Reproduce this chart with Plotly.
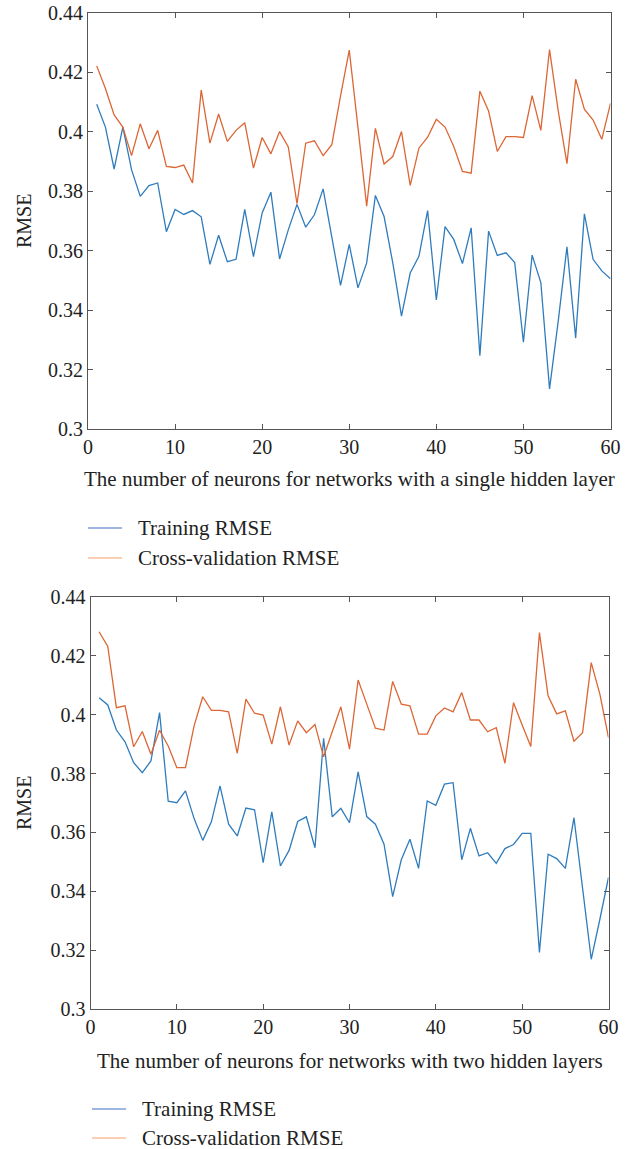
import plotly.graph_objects as go

neurons = list(range(1, 61))

train_single = [0.4093, 0.4016, 0.3875, 0.4016, 0.3873, 0.3783, 0.3819, 0.3828, 0.3664, 0.3739,
                0.3722, 0.3735, 0.3714, 0.3554, 0.3652, 0.3563, 0.3571, 0.3739, 0.3580, 0.3727,
                0.3797, 0.3572, 0.3670, 0.3756, 0.3679, 0.3721, 0.3808, 0.3648, 0.3483, 0.3621,
                0.3475, 0.3559, 0.3786, 0.3715, 0.3559, 0.3380, 0.3525, 0.3581, 0.3735, 0.3434,
                0.3681, 0.3638, 0.3557, 0.3677, 0.3247, 0.3666, 0.3584, 0.3593, 0.3560, 0.3292,
                0.3585, 0.3493, 0.3135, 0.3364, 0.3613, 0.3306, 0.3724, 0.3571, 0.3532, 0.3506]
cv_single = [0.4222, 0.4146, 0.4057, 0.4016, 0.3920, 0.4027, 0.3943, 0.4005, 0.3884, 0.3880,
             0.3888, 0.3828, 0.4141, 0.3962, 0.4060, 0.3968, 0.4005, 0.4031, 0.3878, 0.3981,
             0.3926, 0.4001, 0.3949, 0.3758, 0.3962, 0.3970, 0.3920, 0.3957, 0.4121, 0.4275,
             0.4015, 0.3750, 0.4012, 0.3892, 0.3917, 0.4001, 0.3820, 0.3945, 0.3982, 0.4042,
             0.4016, 0.3951, 0.3867, 0.3861, 0.4137, 0.4070, 0.3934, 0.3984, 0.3984, 0.3981,
             0.4122, 0.4005, 0.4277, 0.4070, 0.3893, 0.4177, 0.4076, 0.4040, 0.3975, 0.4096]

train_two = [0.4058, 0.4033, 0.3948, 0.3908, 0.3837, 0.3803, 0.3843, 0.4007, 0.3706, 0.3701,
             0.3741, 0.3647, 0.3573, 0.3636, 0.3758, 0.3628, 0.3588, 0.3683, 0.3677, 0.3497,
             0.3670, 0.3486, 0.3539, 0.3637, 0.3653, 0.3548, 0.3920, 0.3653, 0.3682, 0.3633,
             0.3806, 0.3654, 0.3628, 0.3560, 0.3382, 0.3507, 0.3577, 0.3478, 0.3707, 0.3692,
             0.3764, 0.3769, 0.3507, 0.3614, 0.3520, 0.3531, 0.3495, 0.3545, 0.3559, 0.3597,
             0.3597, 0.3192, 0.3526, 0.3511, 0.3478, 0.3650, 0.3410, 0.3169, 0.3305, 0.3447]
cv_two = [0.4282, 0.4232, 0.4024, 0.4030, 0.3891, 0.3943, 0.3866, 0.3947, 0.3894, 0.3820,
          0.3820, 0.3962, 0.4061, 0.4015, 0.4015, 0.4010, 0.3869, 0.4053, 0.4005, 0.3999,
          0.3900, 0.4027, 0.3897, 0.3979, 0.3939, 0.3967, 0.3857, 0.3945, 0.4027, 0.3883,
          0.4118, 0.4036, 0.3954, 0.3948, 0.4113, 0.4036, 0.4030, 0.3934, 0.3934, 0.3996,
          0.4023, 0.4010, 0.4075, 0.3982, 0.3982, 0.3942, 0.3956, 0.3835, 0.4041, 0.3965,
          0.3892, 0.4279, 0.4064, 0.4003, 0.4013, 0.3910, 0.3939, 0.4177, 0.4070, 0.3922]

x_ticks = [0, 10, 20, 30, 40, 50, 60]
y_ticks = [0.3, 0.32, 0.34, 0.36, 0.38, 0.4, 0.42, 0.44]
y_tick_labels = ["0.3", "0.32", "0.34", "0.36", "0.38", "0.4", "0.42", "0.44"]

series_names = ["Training RMSE", "Cross-validation RMSE"]
x_titles = ["The number of neurons for networks with a single hidden layer",
            "The number of neurons for networks with two hidden layers"]

BLUE = "#2f7cbd"
ORANGE = "#dc6634"
BLUE_LEG = "#7d9fd8"
ORANGE_LEG = "#f8bf9c"
FONT = "Liberation Serif"
W, H = 634, 1149

fig = go.Figure()

fig.add_trace(go.Scatter(x=neurons, y=train_single, mode="lines", line=dict(color=BLUE, width=1.3),
                         xaxis="x", yaxis="y", showlegend=False))
fig.add_trace(go.Scatter(x=neurons, y=cv_single, mode="lines", line=dict(color=ORANGE, width=1.3),
                         xaxis="x", yaxis="y", showlegend=False))
fig.add_trace(go.Scatter(x=neurons, y=train_two, mode="lines", line=dict(color=BLUE, width=1.3),
                         xaxis="x2", yaxis="y2", showlegend=False))
fig.add_trace(go.Scatter(x=neurons, y=cv_two, mode="lines", line=dict(color=ORANGE, width=1.3),
                         xaxis="x2", yaxis="y2", showlegend=False))

def px_x(p):
    return p / W

def px_y(p):
    return 1 - p / H

axis_common = dict(showgrid=False, zeroline=False, showline=True, linecolor="#555555", linewidth=1,
                   mirror="ticks", ticks="inside", ticklen=5, tickcolor="#555555", automargin=False,
                   tickfont=dict(family=FONT, size=20, color="#222222"))

fig.update_layout(
    width=W, height=H, margin=dict(l=0, r=0, t=0, b=0),
    paper_bgcolor="white", plot_bgcolor="white", showlegend=False,
    xaxis=dict(domain=[px_x(88), px_x(610.5)], range=[0, 60], tickvals=x_ticks, anchor="y", **axis_common),
    yaxis=dict(domain=[px_y(429), px_y(13)], range=[0.3, 0.44], tickvals=y_ticks, ticktext=y_tick_labels,
               anchor="x", **axis_common),
    xaxis2=dict(domain=[px_x(90.5), px_x(608.5)], range=[0, 60], tickvals=x_ticks, anchor="y2", **axis_common),
    yaxis2=dict(domain=[px_y(1009), px_y(597)], range=[0.3, 0.44], tickvals=y_ticks, ticktext=y_tick_labels,
                anchor="x2", **axis_common),
)

annotations = []
shapes = []
tfont = dict(family=FONT, size=21, color="#222222")
# axis titles
for yc in [221, 803]:
    annotations.append(dict(text="RMSE", xref="paper", yref="paper", x=px_x(24), y=px_y(yc),
                            textangle=-90, showarrow=False, font=dict(family=FONT, size=20, color="#222222"),
                            xanchor="center", yanchor="middle"))
for xt_text, (xc, yc) in zip(x_titles, [(349, 479), (350, 1061)]):
    annotations.append(dict(text=xt_text, xref="paper", yref="paper", x=px_x(xc), y=px_y(yc),
                            showarrow=False, font=tfont, xanchor="center", yanchor="middle"))

# legends
for (lx0, lx1, tx, ys) in [(88, 122, 136, (528, 558)), (92, 126, 140, (1109, 1138))]:
    for name, col, yy in zip(series_names, [BLUE_LEG, ORANGE_LEG], ys):
        shapes.append(dict(type="line", xref="paper", yref="paper", x0=px_x(lx0), x1=px_x(lx1),
                           y0=px_y(yy), y1=px_y(yy), line=dict(color=col, width=1.5)))
        annotations.append(dict(text=name, xref="paper", yref="paper", x=px_x(tx), y=px_y(yy),
                                showarrow=False, font=tfont, xanchor="left", yanchor="middle"))

fig.update_layout(annotations=annotations, shapes=shapes)
fig.write_html("out.html")
